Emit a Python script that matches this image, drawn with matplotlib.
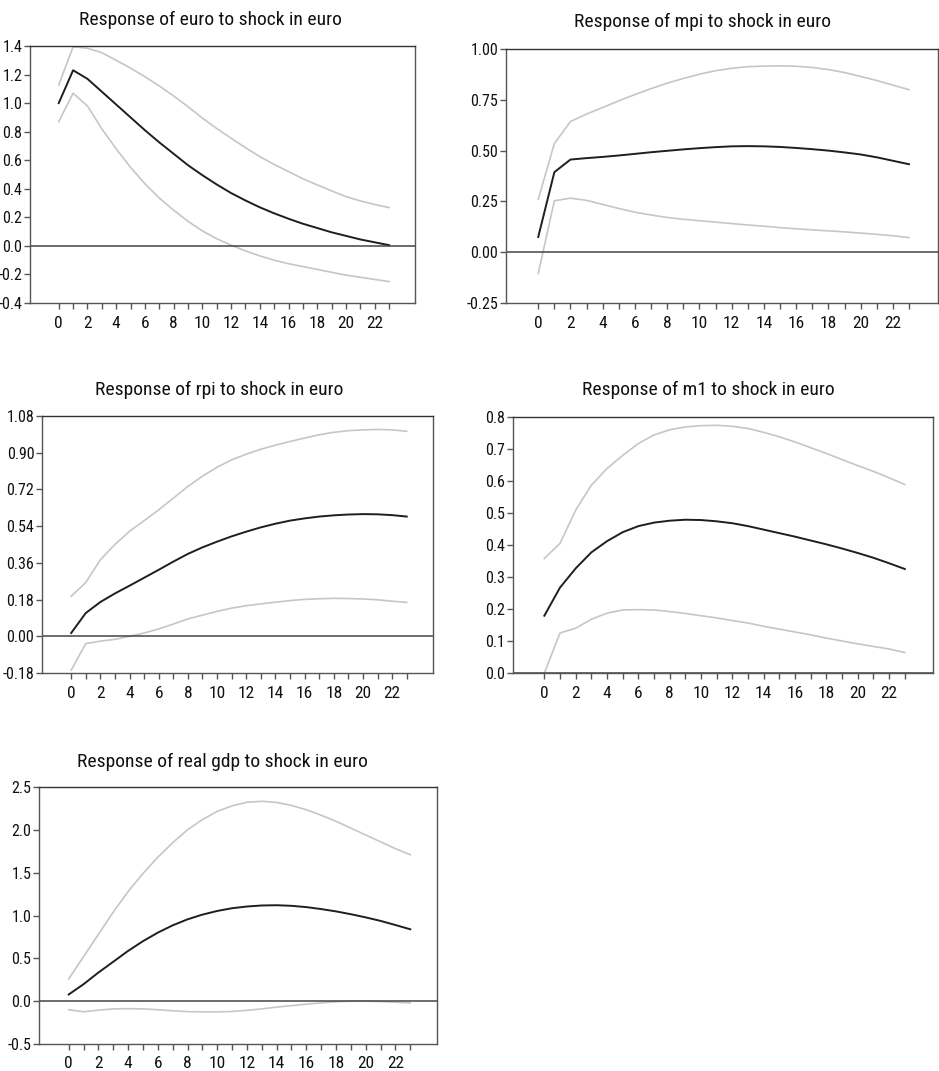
import numpy as np
import matplotlib
matplotlib.use("Agg")
import matplotlib.pyplot as plt
from matplotlib import font_manager
from matplotlib.ticker import MultipleLocator, FixedLocator

# pick a narrow font if one is around
installed = [(f.name, f.stretch) for f in font_manager.fontManager.ttflist]
names = {n for n, _ in installed}
family, stretch = 'DejaVu Sans', 'normal'
for cand in ['Liberation Sans Narrow', 'Roboto Condensed', 'Open Sans Condensed', 'Noto Sans Condensed']:
    if cand in names:
        family = cand
        break
else:
    if any(n == 'DejaVu Sans' and s in ('condensed', 'semi-condensed', 500, 300) for n, s in installed):
        stretch = 'condensed'
plt.rcParams['font.family'] = [family, 'DejaVu Sans']
plt.rcParams['font.stretch'] = stretch

# horizons 0..23
periods = np.arange(24)

# response of euro to shock in euro
euro_mid = [1.0, 1.23, 1.17, 1.08, 0.99, 0.90, 0.81, 0.725, 0.645, 0.565, 0.495, 0.43,
            0.37, 0.318, 0.27, 0.228, 0.19, 0.155, 0.125, 0.095, 0.07, 0.045, 0.025, 0.005]
euro_up = [1.127, 1.395, 1.384, 1.353, 1.30, 1.245, 1.185, 1.12, 1.05, 0.975, 0.895, 0.822,
           0.754, 0.688, 0.625, 0.57, 0.52, 0.47, 0.427, 0.385, 0.345, 0.315, 0.29, 0.268]
euro_lo = [0.87, 1.069, 0.98, 0.82, 0.68, 0.55, 0.435, 0.335, 0.25, 0.172, 0.105, 0.05,
           0.005, -0.035, -0.07, -0.10, -0.125, -0.145, -0.165, -0.185, -0.205, -0.22, -0.235, -0.25]

# response of mpi to shock in euro
mpi_mid = [0.075, 0.394, 0.456, 0.463, 0.469, 0.476, 0.484, 0.492, 0.499, 0.506, 0.512, 0.517,
           0.521, 0.522, 0.521, 0.518, 0.513, 0.507, 0.50, 0.491, 0.481, 0.467, 0.45, 0.433]
mpi_up = [0.26, 0.535, 0.643, 0.68, 0.712, 0.745, 0.776, 0.805, 0.832, 0.855, 0.876, 0.893,
          0.905, 0.913, 0.916, 0.917, 0.915, 0.909, 0.899, 0.884, 0.865, 0.845, 0.822, 0.80]
mpi_lo = [-0.105, 0.253, 0.266, 0.255, 0.235, 0.215, 0.197, 0.183, 0.171, 0.162, 0.155, 0.148,
          0.141, 0.134, 0.128, 0.121, 0.115, 0.110, 0.105, 0.100, 0.094, 0.088, 0.081, 0.072]

# response of rpi to shock in euro
rpi_mid = [0.016, 0.114, 0.168, 0.21, 0.248, 0.287, 0.326, 0.366, 0.404, 0.436, 0.464, 0.49,
           0.513, 0.534, 0.552, 0.567, 0.578, 0.587, 0.593, 0.597, 0.599, 0.598, 0.594, 0.587]
rpi_up = [0.196, 0.264, 0.375, 0.45, 0.515, 0.567, 0.62, 0.677, 0.735, 0.785, 0.829, 0.865,
          0.893, 0.917, 0.937, 0.955, 0.972, 0.988, 1.0, 1.008, 1.012, 1.014, 1.012, 1.005]
rpi_lo = [-0.166, -0.036, -0.024, -0.015, 0.0, 0.016, 0.036, 0.06, 0.085, 0.104, 0.122, 0.138,
          0.15, 0.159, 0.167, 0.175, 0.181, 0.184, 0.186, 0.185, 0.183, 0.179, 0.172, 0.166]

# response of m1 to shock in euro
m1_mid = [0.179, 0.267, 0.327, 0.377, 0.412, 0.44, 0.459, 0.47, 0.476, 0.479, 0.478, 0.474,
          0.468, 0.459, 0.448, 0.437, 0.426, 0.414, 0.402, 0.389, 0.375, 0.36, 0.343, 0.325]
m1_up = [0.358, 0.405, 0.509, 0.587, 0.639, 0.68, 0.717, 0.744, 0.76, 0.769, 0.773, 0.774,
         0.771, 0.764, 0.752, 0.738, 0.722, 0.704, 0.686, 0.667, 0.648, 0.63, 0.61, 0.589]
m1_lo = [0.0, 0.125, 0.14, 0.168, 0.187, 0.197, 0.198, 0.197, 0.192, 0.186, 0.179, 0.172,
         0.164, 0.156, 0.146, 0.137, 0.128, 0.119, 0.109, 0.1, 0.091, 0.083, 0.075, 0.064]

# response of real gdp to shock in euro
gdp_mid = [0.078, 0.198, 0.334, 0.46, 0.587, 0.70, 0.80, 0.885, 0.955, 1.01, 1.053, 1.085,
           1.105, 1.117, 1.12, 1.113, 1.098, 1.075, 1.048, 1.015, 0.978, 0.937, 0.889, 0.839]
gdp_up = [0.26, 0.52, 0.78, 1.04, 1.28, 1.49, 1.68, 1.85, 2.0, 2.12, 2.215, 2.28,
          2.322, 2.333, 2.32, 2.285, 2.235, 2.17, 2.1, 2.02, 1.94, 1.86, 1.78, 1.71]
gdp_lo = [-0.10, -0.124, -0.105, -0.09, -0.087, -0.09, -0.10, -0.112, -0.122, -0.125, -0.125, -0.12,
          -0.107, -0.09, -0.07, -0.052, -0.035, -0.02, -0.007, 0.0, 0.0, -0.005, -0.013, -0.02]

W, H = 939, 1071
fig = plt.figure(figsize=(W / 100, H / 100), dpi=100)


def panel(box, title, tx, ty, mid, up, lo, ylim, ystep, yfmt):
    l, r, t, b = box
    ax = fig.add_axes([l / W, 1 - b / H, (r - l) / W, (b - t) / H])
    ax.plot(periods, up, color='#c6c6c6', lw=1.2)
    ax.plot(periods, lo, color='#c6c6c6', lw=1.2)
    ax.plot(periods, mid, color='#1e1e1e', lw=1.4)
    ax.axhline(0, color='#444444', lw=1.1)
    ax.set_xlim(-2, 24.8)
    ax.set_ylim(*ylim)
    ax.xaxis.set_major_locator(FixedLocator(range(0, 24, 2)))
    ax.xaxis.set_minor_locator(FixedLocator(range(1, 24, 2)))
    ax.yaxis.set_major_locator(MultipleLocator(ystep))
    ax.yaxis.set_major_formatter(plt.FormatStrFormatter(yfmt))
    ax.tick_params(axis='both', which='both', direction='out', length=4, width=1,
                   color='#555555', labelsize=11.5, labelcolor='#111111', pad=1.5)
    ax.tick_params(axis='x', pad=5, labelsize=12.5)
    for s in ax.spines.values():
        s.set_color('#555555')
        s.set_linewidth(1.0)
    ax.spines['top'].set_color('#333333')
    fig.text(tx / W, 1 - ty / H, title, ha='center', va='center', fontsize=14, color='#111111')
    return ax


panel((30, 415, 46, 303), "Response of euro to shock in euro", 210, 20,
      euro_mid, euro_up, euro_lo, (-0.4, 1.4), 0.2, '%.1f')
panel((506, 938, 49, 303), "Response of mpi to shock in euro", 702, 22,
      mpi_mid, mpi_up, mpi_lo, (-0.25, 1.0), 0.25, '%.2f')
panel((42, 433, 416, 673), "Response of rpi to shock in euro", 219, 390,
      rpi_mid, rpi_up, rpi_lo, (-0.18, 1.08), 0.18, '%.2f')
panel((513, 933, 417, 673), "Response of m1 to shock in euro", 708, 390,
      m1_mid, m1_up, m1_lo, (0.0, 0.8), 0.1, '%.1f')
panel((39, 437, 787, 1044), "Response of real gdp to shock in euro", 222, 762,
      gdp_mid, gdp_up, gdp_lo, (-0.5, 2.5), 0.5, '%.1f')

fig.savefig("out.png", dpi=100)
